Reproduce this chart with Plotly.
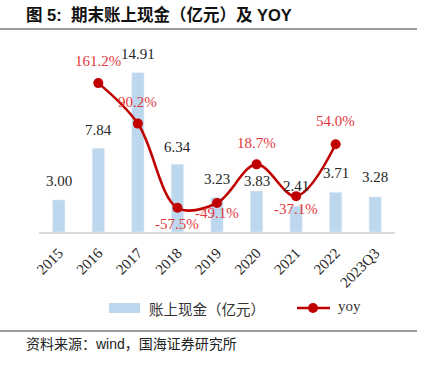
import plotly.graph_objects as go

categories = ["2015", "2016", "2017", "2018", "2019", "2020", "2021", "2022", "2023Q3"]
cash = [3.00, 7.84, 14.91, 6.34, 3.23, 3.83, 2.41, 3.71, 3.28]
yoy_cats = ["2016", "2017", "2018", "2019", "2020", "2021", "2022"]
yoy = [161.2, 90.2, -57.5, -49.1, 18.7, -37.1, 54.0]

# label placement (pixel shifts), style only
bar_label_shift = [19, 18, 19, 17, 18, 10, 20, 19, 20]
yoy_label_shift = [22, 22, -16, -10, 21, -13, 23]

W, H = 424, 368
L, R, T, B = 39, 29, 61, 136
PW, PH = W - L - R, H - T - B

def px(x):
    return (x - L) / PW

def py(y):
    return (H - B - y) / PH

BAR = "#BDD7EE"
LINE = "#C00000"
LRED = "#E3383C"
SERIF = "Liberation Serif, Times New Roman, serif"
CJK = "Liberation Sans, Noto Sans CJK SC, sans-serif"

fig = go.Figure()
fig.add_trace(go.Bar(x=categories, y=cash, marker_color=BAR, width=0.31,
                     name="账上现金（亿元）", showlegend=False, hoverinfo="skip"))
fig.add_trace(go.Scatter(x=yoy_cats, y=yoy, yaxis="y2", mode="lines+markers",
                         line=dict(color=LINE, width=2.6, shape="spline", smoothing=1),
                         marker=dict(color=LINE, size=10), name="yoy", showlegend=False,
                         hoverinfo="skip"))

ann = []
for c, v, s in zip(categories, cash, bar_label_shift):
    ann.append(dict(x=categories.index(c), y=v, xref="x", yref="y", text=f"{v:.2f}", showarrow=False,
                    yshift=s, yanchor="middle", font=dict(family=SERIF, size=15, color="#262626")))
for c, v, s in zip(yoy_cats, yoy, yoy_label_shift):
    ann.append(dict(x=categories.index(c), y=v, xref="x", yref="y2", text=f"{v:.1f}%", showarrow=False,
                    yshift=s, yanchor="middle", font=dict(family=SERIF, size=15, color=LRED)))

# manual legend
ann.append(dict(x=px(147), y=py(308), xref="paper", yref="paper", text="账上现金（亿元）",
                showarrow=False, xanchor="left", yanchor="middle",
                font=dict(family="Noto Sans CJK SC", size=14.5, color="#333333")))
ann.append(dict(x=px(336), y=py(306), xref="paper", yref="paper", text="yoy",
                showarrow=False, xanchor="left", yanchor="middle",
                font=dict(family=SERIF, size=15, color="#333333")))
# source
ann.append(dict(x=px(24), y=py(344), xref="paper", yref="paper",
                text="资料来源：wind，国海证券研究所", showarrow=False,
                xanchor="left", yanchor="middle",
                font=dict(family=CJK, size=14, color="#222222")))

shapes = [
    dict(type="rect", xref="paper", yref="paper", x0=px(109), x1=px(140), y0=py(313), y1=py(303),
         fillcolor=BAR, line=dict(width=0)),
    dict(type="line", xref="paper", yref="paper", x0=px(297), x1=px(330), y0=py(308), y1=py(308),
         line=dict(color=LINE, width=2.6)),
    dict(type="circle", xref="paper", yref="paper", x0=px(308), x1=px(318), y0=py(313), y1=py(303),
         fillcolor=LINE, line=dict(width=0)),
    dict(type="line", xref="paper", yref="paper", x0=px(0), x1=px(417), y0=py(29), y1=py(29),
         line=dict(color="#3a3a3a", width=1.2)),
    dict(type="line", xref="paper", yref="paper", x0=px(0), x1=px(417), y0=py(331), y1=py(331),
         line=dict(color="#3a3a3a", width=1.2)),
]

fig.update_layout(
    width=W, height=H,
    margin=dict(l=L, r=R, t=T, b=B, pad=0, autoexpand=False),
    paper_bgcolor="white", plot_bgcolor="white",
    title=dict(text="<b>图 5:  期末账上现金（亿元）及 YOY</b>", x=26 / W, xanchor="left",
               y=1 - 15 / H, yanchor="middle", xref="container", yref="container",
               automargin=False,
               font=dict(family=CJK, size=16.5, color="#111111")),
    xaxis=dict(type="category", categoryorder="array", categoryarray=categories,
               range=[-0.5, len(categories) - 0.5], autorange=False, automargin=False,
               showline=True, linecolor="#D9D9D9", linewidth=1.5,
               ticks="", tickangle=-45, showgrid=False, zeroline=False,
               ticklabelstandoff=5,
               tickfont=dict(family=SERIF, size=15, color="#262626")),
    yaxis=dict(range=[0, 16], autorange=False, visible=False, showgrid=False, zeroline=False,
               automargin=False),
    yaxis2=dict(range=[-100, 200], autorange=False, overlaying="y", side="right", visible=False,
                showgrid=False, zeroline=False, automargin=False),
    annotations=ann,
    shapes=shapes,
    showlegend=False,
    hovermode=False,
)

fig.write_html("out.html", config={"displayModeBar": False, "staticPlot": True},
               post_script="document.body.style.margin='0';document.body.style.overflow='hidden';")
